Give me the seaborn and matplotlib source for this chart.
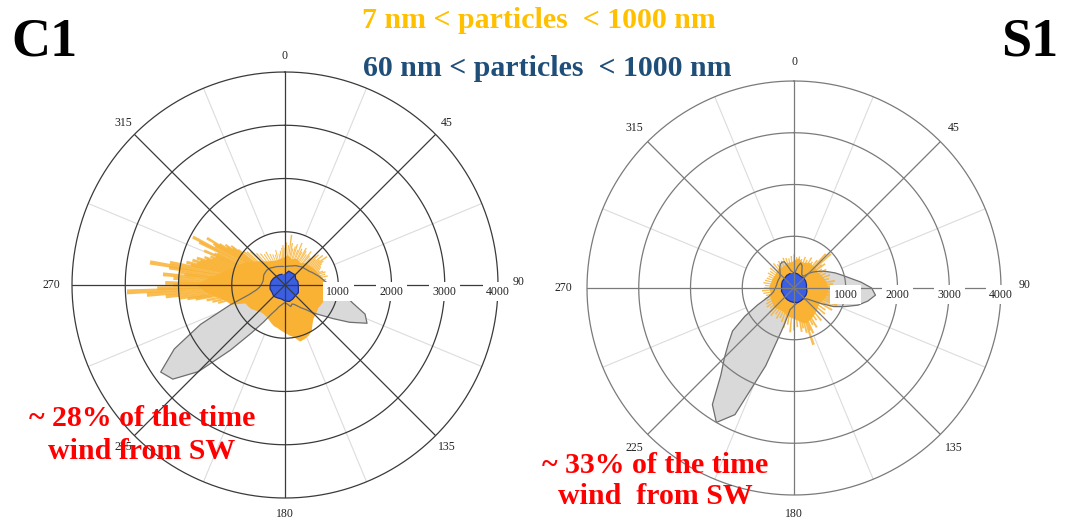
import numpy as np
import matplotlib
matplotlib.use("Agg")
import matplotlib.pyplot as plt
import seaborn as sns

# ---------------- data ----------------
ANGLES5 = list(range(0, 360, 5))
ANGLES15 = list(range(0, 360, 15))
RING_VALUES = [1000, 2000, 3000, 4000]
RING_LABELS = ["1000", "2000", "3000", "4000"]
DIR_TICKS = [0, 45, 90, 135, 180, 225, 270, 315]

# C1 panel
c1_gray = [350, 350, 360, 370, 380, 400, 420, 430, 450, 470, 480, 500,
           520, 560, 600, 650, 700, 760, 850, 1000, 1150, 1320, 1600, 1700,
           1400, 1100, 880, 740, 600, 520, 450, 400, 380, 420, 380, 350,
           330, 350, 380, 420, 500, 600, 800, 1100, 1600, 2300, 2750, 2850,
           2400, 1750, 1100, 700, 550, 480, 450, 430, 420, 420, 430, 440,
           440, 440, 440, 430, 420, 400, 390, 380, 370, 360, 355, 350]
c1_orange = [520, 560, 530, 500, 520, 540, 520, 500, 540, 570, 580, 600,
             620, 640, 660, 690, 720, 740, 760, 780, 760, 770, 790, 780,
             770, 760, 780, 800, 830, 900, 1000, 1050, 1080, 1100, 1000, 950,
             900, 860, 820, 800, 760, 720, 690, 680, 680, 700, 740, 780,
             800, 820, 1080, 1150, 1300, 1500, 1650, 1450, 1250, 1100, 1000, 920,
             850, 760, 690, 630, 580, 540, 520, 500, 490, 490, 500, 510]
c1_spike_deg = [255, 257, 259, 261, 262, 263, 264.5, 266, 267.5, 268.5,
                270, 271, 272, 273.5, 275, 276, 277, 278.5, 279.5, 281,
                282, 283, 284, 285, 286, 287, 288, 289, 290, 291,
                292, 293, 294, 295, 296.5, 297.5, 299, 300, 301, 302,
                303, 304, 305, 306, 307, 309, 311, 314, 318, 322,
                326, 330, 334, 338, 342, 345, 349, 352, 355, 357,
                0, 2, 5, 7.5, 10, 12, 15, 17, 20, 22,
                25, 27, 30, 32, 35, 38, 40, 43, 46, 48,
                50, 52, 54, 56, 58, 60, 62, 64, 66, 68,
                70, 72, 75, 78, 82]
c1_spike_r = [1300, 1400, 1500, 1700, 1850, 2000, 2250, 2600, 2970, 2400,
              2100, 2250, 2000, 2100, 2300, 1900, 2000, 2200, 2570, 2200,
              1800, 1900, 1700, 1800, 1650, 1730, 1550, 1600, 1450, 1500,
              1400, 1650, 1450, 1400, 1800, 1950, 1500, 1550, 1710, 1450,
              1300, 1350, 1200, 1250, 1100, 1000, 950, 900, 800, 750,
              700, 720, 650, 620, 600, 680, 600, 650, 700, 750,
              700, 800, 750, 950, 800, 700, 750, 800, 700, 850,
              750, 700, 800, 750, 700, 800, 720, 700, 800, 850,
              750, 900, 800, 950, 850, 800, 760, 750, 720, 700,
              760, 800, 780, 820, 780]
c1_blue = [200, 270, 260, 270, 230, 250, 250, 260, 290, 280, 300, 320,
           300, 270, 280, 300, 280, 290, 280, 270, 250, 230, 220, 210]

# S1 panel
s1_gray = [300, 320, 420, 500, 460, 360, 300, 290, 300, 400, 480, 560,
           650, 740, 850, 960, 1100, 1300, 1500, 1580, 1450, 1280, 1050, 850,
           600, 420, 330, 300, 280, 270, 270, 270, 280, 290, 300, 320,
           340, 380, 420, 750, 1600, 2700, 3000, 2750, 2200, 1900, 1650, 1450,
           1100, 780, 550, 450, 400, 380, 360, 350, 340, 340, 340, 340,
           340, 340, 350, 380, 420, 480, 530, 550, 540, 420, 340, 310]
s1_orange = [520, 560, 580, 540, 520, 540, 560, 580, 560, 580, 560, 540,
             560, 580, 600, 620, 640, 650, 660, 660, 650, 640, 620, 600,
             580, 580, 600, 620, 640, 660, 680, 700, 720, 700, 660, 620,
             600, 580, 560, 540, 520, 500, 500, 500, 520, 540, 520, 500,
             500, 490, 480, 470, 460, 470, 480, 470, 460, 450, 450, 450,
             440, 440, 450, 460, 480, 470, 460, 470, 480, 500, 500, 500]
s1_spike_deg = [0, 5, 10, 15, 20, 25, 30, 35, 40, 43, 45, 47, 50, 52,
                56, 60, 65, 70, 75, 80, 84, 88, 91, 93, 96, 98, 101, 103,
                106, 109, 112, 116, 120, 125, 130, 135, 140, 145, 150, 153,
                157, 159, 161, 164, 167, 170, 175, 180, 185, 190, 195, 200,
                205, 210, 215, 220, 225, 230, 235, 240, 245, 250, 255, 260,
                265, 270, 275, 280, 285, 290, 295, 300, 305, 310, 315, 320,
                325, 330, 335, 340, 345, 350, 355]
s1_spike_r = [650, 600, 620, 580, 640, 600, 680, 620, 700, 900, 780, 970,
              700, 760, 650, 720, 680, 740, 700, 800, 760, 880, 820, 960,
              900, 1020, 880, 1090, 950, 820, 900, 800, 850, 740, 780, 720,
              820, 760, 880, 800, 950, 880, 1160, 900, 800, 860, 760, 820,
              860, 720, 800, 700, 640, 680, 620, 700, 660, 600, 640, 620,
              580, 600, 560, 600, 620, 580, 560, 600, 580, 560, 540, 580,
              560, 600, 580, 620, 560, 600, 580, 620, 600, 580, 620]
s1_blue = [300, 280, 260, 270, 260, 250, 240, 260, 270, 270, 280, 290,
           280, 270, 260, 250, 240, 250, 240, 250, 260, 260, 280, 290]

TITLE_TOTAL = "7 nm < particles  < 1000 nm"
TITLE_ACC = "60 nm < particles  < 1000 nm"
NOTE_C1 = "~ 28% of the time\nwind from SW"
NOTE_S1 = "~ 33% of the time\nwind  from SW"

# ---------------- style ----------------
sns.set_theme(style="white")
plt.rcParams["font.family"] = ["Liberation Serif", "DejaVu Serif"]

GRAY_FILL = "#d9d9d9"
GRAY_EDGE = "#6e6e6e"
ORANGE = "#f9b233"
BLUE_FILL = "#3a5fe5"
BLUE_EDGE = "#1c2f8c"


def closed(deg, vals):
    th = np.deg2rad(np.append(np.asarray(deg, float), deg[0]))
    r = np.append(np.asarray(vals, float), vals[0])
    return th, r


def panel(ax, gray, orange, sp_deg, sp_r, sp_w, blue, line_color, lab_off):
    ax.set_theta_zero_location("N")
    ax.set_theta_direction(-1)
    ax.set_ylim(0, 4000)
    ax.grid(False)
    ax.set_xticks([])
    ax.set_yticks([])
    ax.spines["polar"].set_visible(False)
    ax.set_facecolor("white")

    # minor light spokes
    for d in np.arange(22.5, 360, 45):
        ax.plot([np.deg2rad(d)] * 2, [1000, 4000], color="#dcdcdc",
                lw=0.8, zorder=0.5)

    # gray wind lobe
    th, r = closed(ANGLES5, gray)
    ax.fill(th, r, color=GRAY_FILL, zorder=1, lw=0)

    # orange (7-1000 nm)
    th, r = closed(ANGLES5, orange)
    ax.fill(th, r, color=ORANGE, zorder=2, lw=0)
    ax.bar(np.deg2rad(sp_deg), sp_r, width=np.deg2rad(sp_w), bottom=0,
           color=ORANGE, alpha=0.85, zorder=2, lw=0)

    # gray outline drawn above orange
    th, r = closed(ANGLES5, gray)
    sns.lineplot(x=th, y=r, ax=ax, sort=False, color=GRAY_EDGE, lw=0.9,
                 zorder=3, legend=False)

    # blue (60-1000 nm)
    th, r = closed(ANGLES15, blue)
    ax.fill(th, r, color=BLUE_FILL, zorder=4, lw=0)
    sns.lineplot(x=th, y=r, ax=ax, sort=False, color=BLUE_EDGE, lw=0.9,
                 zorder=4.5, legend=False)
    ax.set_xlabel("")
    ax.set_ylabel("")

    # rings and major spokes on top
    circ = np.linspace(0, 2 * np.pi, 361)
    for rv in RING_VALUES:
        ax.plot(circ, np.full_like(circ, rv), color=line_color, lw=0.9,
                zorder=6, clip_on=False)
    for d in DIR_TICKS:
        ax.plot([np.deg2rad(d)] * 2, [0, 4000], color=line_color, lw=0.9,
                zorder=6)

    # radial labels
    for rv, lab in zip(RING_VALUES, RING_LABELS):
        ax.annotate(lab, xy=(np.pi / 2, rv), xytext=(0, -5),
                    textcoords="offset points", ha="center", va="center",
                    fontsize=8.5, color="#222222", zorder=7,
                    bbox=dict(boxstyle="square,pad=0.3", fc="white",
                              ec="none"),
                    annotation_clip=False)
    # direction labels (offset outward in points)
    for d in DIR_TICKS:
        rad = np.deg2rad(d)
        off = lab_off + (3 if d in (90, 270) else 0)
        dx = off * np.sin(rad)
        dy = off * np.cos(rad) + (2.5 if d == 90 else 0)
        ax.annotate(str(d), xy=(rad, 4000), xytext=(dx, dy),
                    textcoords="offset points", ha="center", va="center",
                    fontsize=8.5, color="#222222", zorder=8,
                    annotation_clip=False)


fig = plt.figure(figsize=(10.71, 5.22), dpi=100)
fig.patch.set_facecolor("white")

W, H = 1071, 522
# left panel: centre (285,285), radius 213 px
axL = fig.add_axes([(285 - 213) / W, (H - 285 - 213) / H, 426 / W, 426 / H],
                   projection="polar")
# right panel: centre (794,288), radius 207 px
axR = fig.add_axes([(794 - 207) / W, (H - 288 - 207) / H, 414 / W, 414 / H],
                   projection="polar")

panel(axL, c1_gray, c1_orange, c1_spike_deg, c1_spike_r, 1.8, c1_blue,
      "#3a3a3a", 11.5)
panel(axR, s1_gray, s1_orange, s1_spike_deg, s1_spike_r, 2.6, s1_blue,
      "#7a7a7a", 14)

bold = dict(fontweight="bold")
fig.text(44 / W, 1 - 42 / H, "C1", ha="center", va="center", fontsize=39,
         color="black", **bold)
fig.text(1030 / W, 1 - 42 / H, "S1", ha="center", va="center", fontsize=39,
         color="black", **bold)
fig.text(539 / W, 1 - 21 / H, TITLE_TOTAL, ha="center", va="center",
         fontsize=21.5, color="#ffc000", **bold)
fig.text(547 / W, 1 - 69 / H, TITLE_ACC, ha="center", va="center",
         fontsize=21.5, color="#1f4e79", **bold)
fig.text(142 / W, 1 - 435 / H, NOTE_C1, ha="center", va="center",
         fontsize=21.5, color="#ff0000", linespacing=1.27, zorder=10, **bold)
fig.text(655 / W, 1 - 481 / H, NOTE_S1, ha="center", va="center",
         fontsize=21.5, color="#ff0000", linespacing=1.22, zorder=10, **bold)

fig.savefig("out.png", dpi=100, facecolor="white")
